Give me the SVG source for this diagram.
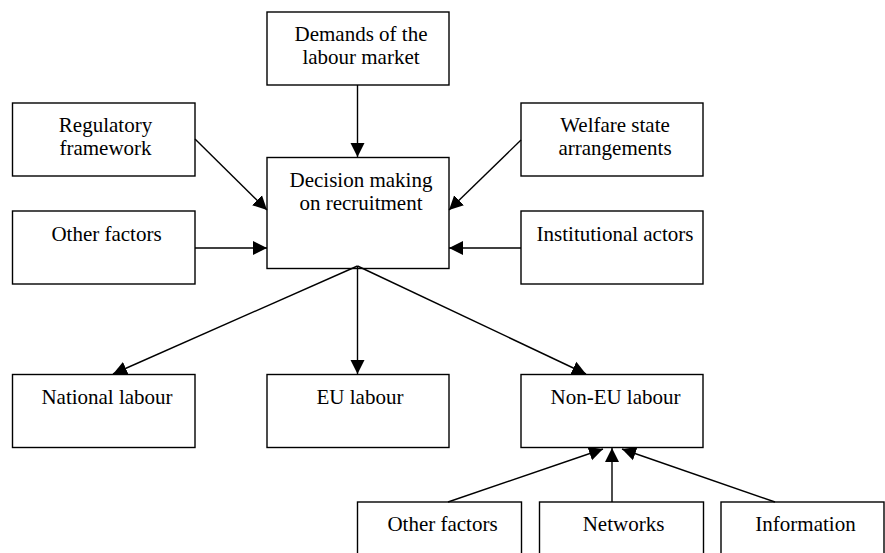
<svg xmlns="http://www.w3.org/2000/svg" width="885" height="553" viewBox="0 0 885 553">
<style>
.box{fill:#fff;stroke:#000;stroke-width:1.4}
.lbl{font-family:"Liberation Serif","Times New Roman",serif;font-size:21px;fill:#000;text-anchor:middle}
.con{stroke:#000;stroke-width:1.4;fill:none;marker-end:url(#ah)}
</style>
<defs>
<marker id="ah" markerUnits="userSpaceOnUse" markerWidth="15" markerHeight="15" refX="14" refY="7" orient="auto" viewBox="0 0 15 14">
<path d="M0,0 L14,7 L0,14 z" fill="#000"/>
</marker>
</defs>
<rect width="885" height="553" fill="#fff"/>
<g id="demands"><rect class="box" x="267" y="12" width="182" height="73"/><text class="lbl" x="361" y="41">Demands of the</text><text class="lbl" x="361" y="64">labour market</text></g>
<g id="regulatory"><rect class="box" x="12.5" y="103" width="182.5" height="73"/><text class="lbl" x="105.5" y="132">Regulatory</text><text class="lbl" x="105.5" y="155">framework</text></g>
<g id="decision"><rect class="box" x="267" y="157.5" width="182" height="111"/><text class="lbl" x="361" y="187">Decision making</text><text class="lbl" x="361" y="210">on recruitment</text></g>
<g id="welfare"><rect class="box" x="521" y="103" width="182" height="73"/><text class="lbl" x="615" y="132">Welfare state</text><text class="lbl" x="615" y="155">arrangements</text></g>
<g id="other-top"><rect class="box" x="12.5" y="211" width="182.5" height="73"/><text class="lbl" x="106.5" y="241">Other factors</text></g>
<g id="institutional"><rect class="box" x="521" y="211" width="182" height="73"/><text class="lbl" x="615" y="241">Institutional actors</text></g>
<g id="national"><rect class="box" x="12.5" y="374.5" width="182.5" height="73"/><text class="lbl" x="107" y="403.5">National labour</text></g>
<g id="eu"><rect class="box" x="267" y="374.5" width="182" height="73"/><text class="lbl" x="360" y="403.5">EU labour</text></g>
<g id="noneu"><rect class="box" x="521" y="374.5" width="182" height="73"/><text class="lbl" x="615.5" y="403.5">Non-EU labour</text></g>
<g id="other-bottom"><rect class="box" x="357.5" y="502" width="164" height="80"/><text class="lbl" x="442.5" y="530.5">Other factors</text></g>
<g id="networks"><rect class="box" x="539.5" y="502" width="164" height="80"/><text class="lbl" x="623.5" y="530.5">Networks</text></g>
<g id="information"><rect class="box" x="721" y="502" width="163" height="80"/><text class="lbl" x="805.5" y="530.5">Information</text></g>
<g id="connectors">
<line class="con" x1="357.5" y1="85" x2="357.5" y2="157"/>
<line class="con" x1="195" y1="139" x2="267" y2="210"/>
<line class="con" x1="195" y1="248" x2="267" y2="248"/>
<line class="con" x1="521" y1="140" x2="449" y2="210"/>
<line class="con" x1="521" y1="248" x2="449" y2="248"/>
<line class="con" x1="357.5" y1="266" x2="113" y2="374"/>
<line class="con" x1="357.5" y1="266" x2="357.5" y2="374"/>
<line class="con" x1="357.5" y1="266" x2="586" y2="374"/>
<line class="con" x1="448" y1="502" x2="603" y2="449"/>
<line class="con" x1="612" y1="502" x2="612" y2="448"/>
<line class="con" x1="775" y1="502" x2="622" y2="449"/>
</g>
</svg>
